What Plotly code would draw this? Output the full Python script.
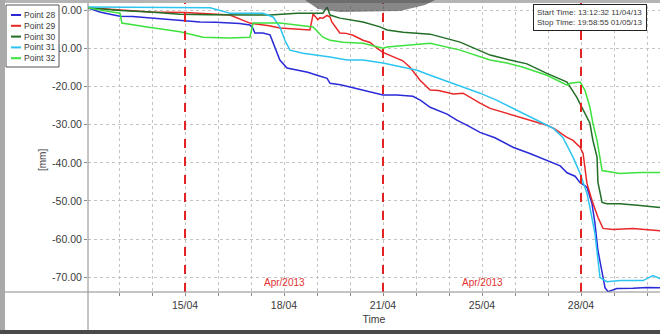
import datetime as dt
import plotly.graph_objects as go

# ---- data -------------------------------------------------------------
START = dt.datetime(2013, 4, 11)          # day offsets below are measured from here

SERIES_NAMES = ["Point 28", "Point 29", "Point 30", "Point 31", "Point 32"]
SERIES_COLORS = ["#2a2ad8", "#e82828", "#226e26", "#2cc4f0", "#3ee23e"]

p28_days = [0.90, 1.30, 1.60, 1.98, 2.40, 2.99, 3.50, 4.00, 4.67, 5.20, 5.68, 6.00, 6.35, 6.45, 6.52, 6.79,
            7.03, 7.13, 7.25, 7.36, 7.60, 7.94, 8.30, 8.61, 8.95, 9.05, 9.40, 9.72, 10.16, 10.50, 10.83,
            11.30, 11.84, 12.10, 12.42, 12.99, 13.32, 13.70, 14.10, 14.60, 15.21, 15.80, 16.35, 16.80,
            17.03, 17.30, 17.47, 17.70, 17.87, 17.97, 18.07, 18.21, 18.31, 18.41, 18.71, 19.25, 19.72, 20.16]
p28_mm = [0.7, -0.4, -0.9, -1.5, -1.6, -2.0, -2.2, -2.5, -3.0, -3.1, -3.3, -3.4, -3.8, -4.6, -5.9, -5.9,
          -6.4, -8.3, -10.8, -13.0, -15.1, -15.7, -16.2, -17.0, -17.8, -19.1, -19.5, -20.1, -20.9, -21.4, -22.2,
          -22.2, -22.5, -23.6, -25.4, -27.2, -28.8, -30.3, -32.0, -33.4, -35.9, -37.6, -39.3, -40.8,
          -42.6, -43.5, -45.2, -46.4, -50.7, -55.9, -63.0, -69.1, -72.8, -73.8, -73.0, -72.9, -72.7, -72.8]

p29_days = [0.90, 1.98, 2.99, 4.17, 5.00, 5.68, 6.35, 7.00, 7.36, 8.37, 8.44, 8.48, 8.64, 8.71, 8.81, 8.95,
            9.05, 9.11, 9.38, 9.60, 9.82, 10.16, 10.40, 10.50, 10.63, 10.83, 11.00, 11.30, 11.50, 11.74,
            12.08, 12.42, 12.70, 12.99, 13.20, 13.53, 13.80, 14.10, 14.44, 14.80, 15.01, 15.40, 15.78,
            16.10, 16.35, 16.60, 16.79, 17.00, 17.23, 17.47, 17.57, 17.63, 17.70, 17.87, 18.07, 18.24,
            18.58, 19.25, 19.92, 20.16]
p29_mm = [0.7, 0.1, -0.4, -0.5, -0.9, -1.2, -3.3, -4.0, -4.6, -5.1, -2.5, -0.9, -2.4, -1.9, -2.0, -1.3,
          -1.7, -3.0, -5.9, -6.0, -6.5, -7.8, -8.4, -9.1, -9.9, -11.0, -11.6, -12.5, -13.2, -14.9,
          -18.3, -20.9, -21.0, -21.5, -21.9, -21.7, -23.0, -24.3, -25.7, -26.5, -27.0, -27.8, -28.8,
          -29.4, -30.1, -31.0, -32.0, -33.2, -34.1, -35.9, -37.5, -42.0, -45.4, -49.9, -54.3, -57.2,
          -57.5, -57.2, -57.5, -57.8]

p30_days = [0.90, 2.00, 2.99, 4.00, 5.00, 5.68, 6.35, 7.03, 7.94, 8.48, 8.81, 8.95, 9.05, 9.38, 10.16,
            10.73, 10.97, 11.51, 12.42, 13.43, 14.44, 15.11, 15.68, 16.35, 17.03, 17.36, 17.57, 17.80,
            17.90, 18.04, 18.07, 18.21, 18.37, 18.81, 19.49, 20.16]
p30_mm = [0.7, 0.0, -0.4, -1.0, -1.1, -1.2, -1.2, -1.2, -0.7, -0.7, -0.7, 0.9, -1.2, -2.0, -3.0,
          -4.3, -5.1, -5.7, -6.2, -8.3, -11.7, -13.0, -14.0, -16.5, -18.8, -22.8, -26.2, -29.6,
          -34.1, -38.5, -45.1, -50.4, -50.7, -50.7, -51.2, -51.7]

p31_days = [0.90, 2.00, 2.99, 4.17, 5.01, 5.68, 6.79, 7.13, 7.36, 7.53, 7.70, 8.14, 8.61, 9.05, 9.62,
            10.16, 10.83, 11.51, 11.98, 12.42, 13.00, 13.53, 14.10, 14.67, 15.78, 16.56, 16.89, 17.23,
            17.47, 17.70, 17.80, 17.97, 18.14, 18.37, 18.81, 19.59, 19.92, 20.16]
p31_mm = [0.9, 0.8, 0.9, 0.7, 0.7, -0.7, -0.7, -1.7, -4.3, -7.8, -10.4, -11.2, -11.7, -12.2, -13.0,
          -13.0, -13.8, -14.9, -15.7, -17.0, -18.6, -20.1, -21.7, -23.6, -28.0, -30.9, -33.3, -38.5,
          -42.8, -48.0, -51.7, -58.6, -70.1, -71.2, -70.9, -70.9, -69.6, -70.4]

p32_days = [0.90, 1.30, 1.98, 2.04, 2.89, 3.50, 4.00, 4.77, 5.68, 6.35, 6.46, 7.36, 8.48, 8.81, 9.05,
            9.49, 10.16, 10.83, 10.97, 12.42, 13.43, 14.44, 15.01, 15.55, 16.35, 17.03, 17.13, 17.47,
            17.63, 17.80, 17.90, 18.04, 18.14, 18.21, 18.81, 19.49, 20.16]
p32_mm = [0.7, 0.1, -0.7, -3.3, -4.3, -5.0, -5.6, -7.0, -7.2, -7.0, -3.3, -3.3, -4.3, -7.0, -7.8,
          -8.3, -8.6, -9.9, -9.6, -8.6, -10.4, -13.0, -13.8, -14.9, -17.0, -19.6, -19.1, -18.8,
          -20.9, -25.4, -29.6, -34.1, -38.5, -42.0, -42.8, -42.5, -42.5]

SERIES_DAYS = [p28_days, p29_days, p30_days, p31_days, p32_days]
SERIES_MM = [p28_mm, p29_mm, p30_mm, p31_mm, p32_mm]

# axis ticks (day offsets) and their labels
X_TICK_DAYS = [4 + 4 / 24, 7.5, 10 + 20 / 24, 14 + 4 / 24, 17.5]
X_TICK_TEXT = ["15/04", "18/04", "21/04", "25/04", "28/04"]
Y_TICKS = [0, -10, -20, -30, -40, -50, -60, -70]
MARKER_DAYS = [4 + 4 / 24, 10 + 20 / 24, 17.5]     # red dashed markers
MONTH_LABEL_DAYS = [7.5, 14 + 4 / 24]
MONTH_LABEL = "Apr/2013"
START_TEXT = "Start Time: 13:12:32 11/04/13"
STOP_TEXT = "Stop Time: 19:58:55 01/05/13"

X_RANGE_DAYS = [0.90, 20.16]
Y_RANGE = [-73.9, 2.76]


def at(day):
    return START + dt.timedelta(days=day)


# ---- layout helpers (pixel -> paper) ---------------------------------
W, H = 660, 334
ML, MR, MT, MB = 88, 0, 0, 42
PW, PH = W - ML - MR, H - MT - MB


def px(x):
    return (x - ML) / PW


def py(y):
    return (H - MB - y) / PH


FONT = "Liberation Sans"
TXT = "#3a3a3a"

fig = go.Figure()
for name, color, days, vals in zip(SERIES_NAMES, SERIES_COLORS, SERIES_DAYS, SERIES_MM):
    fig.add_trace(go.Scatter(
        x=[at(d) for d in days], y=vals, name=name, mode="lines",
        line=dict(color=color, width=1.5), showlegend=False,
    ))

shapes = []
# red dashed markers
for d in MARKER_DAYS:
    shapes.append(dict(type="line", xref="x", yref="paper", x0=at(d), x1=at(d), y0=0, y1=1,
                       line=dict(color="#e52222", width=2, dash="dash"), layer="above"))
# frame lines that run past the plot area
shapes.append(dict(type="line", xref="paper", yref="paper", x0=0, x1=0, y0=1, y1=py(330),
                   line=dict(color="#8a8a8a", width=1)))
shapes.append(dict(type="line", xref="paper", yref="paper", x0=px(5), x1=1, y0=0, y1=0,
                   line=dict(color="#8a8a8a", width=1)))
# window edges
shapes.append(dict(type="rect", xref="paper", yref="paper", x0=px(0), x1=px(5), y0=py(334), y1=py(0),
                   fillcolor="#a9a9a9", line=dict(width=0), layer="above"))
shapes.append(dict(type="rect", xref="paper", yref="paper", x0=px(0), x1=1, y0=py(334), y1=py(330),
                   fillcolor="#4a4a4a", line=dict(width=0), layer="above"))
shapes.append(dict(type="rect", xref="paper", yref="paper", x0=px(5), x1=1, y0=py(3), y1=py(0),
                   fillcolor="#b4b4b4", line=dict(width=0), layer="above"))
shapes.append(dict(type="path", xref="paper", yref="paper",
                   path=f"M{px(305)},{py(0)} L{px(318)},{py(9)} L{px(340)},{py(12)} L{px(400)},{py(11)} "
                        f"L{px(425)},{py(5)} L{px(435)},{py(0)} Z",
                   fillcolor="rgba(70,70,70,0.65)", line=dict(width=0), layer="above"))

# legend box drawn over the tick-label strip
shapes.append(dict(type="rect", xref="paper", yref="paper", x0=px(6), x1=px(59), y0=py(67), y1=py(5),
                   fillcolor="white", line=dict(color="#555555", width=1), layer="above"))
annotations = []
for i, (name, color) in enumerate(zip(SERIES_NAMES, SERIES_COLORS)):
    yy = 15 + i * 10.8
    shapes.append(dict(type="line", xref="paper", yref="paper", x0=px(11), x1=px(21), y0=py(yy), y1=py(yy),
                       line=dict(color=color, width=2), layer="above"))
    annotations.append(dict(xref="paper", yref="paper", x=px(22), y=py(yy), text=name, showarrow=False,
                            xanchor="left", yanchor="middle", font=dict(family=FONT, size=8.5, color=TXT)))

for d in MONTH_LABEL_DAYS:
    annotations.append(dict(xref="x", yref="paper", x=at(d), y=py(282), text=MONTH_LABEL, showarrow=False,
                            xanchor="center", yanchor="middle", font=dict(family=FONT, size=10, color="#e23030")))

annotations.append(dict(xref="paper", yref="paper", x=px(533), y=py(4),
                        text=START_TEXT + "<br>" + STOP_TEXT, showarrow=False, align="left",
                        xanchor="left", yanchor="top", bgcolor="white", bordercolor="#222222",
                        borderwidth=1, borderpad=3, font=dict(family=FONT, size=8, color=TXT)))

annotations.append(dict(xref="paper", yref="paper", x=px(42), y=py(160), text="[mm]", textangle=-90,
                        showarrow=False, xanchor="center", yanchor="middle",
                        font=dict(family=FONT, size=10, color=TXT)))

fig.update_layout(
    width=W, height=H,
    margin=dict(l=ML, r=MR, t=MT, b=MB, pad=0),
    paper_bgcolor="white", plot_bgcolor="white",
    shapes=shapes, annotations=annotations,
    xaxis=dict(
        type="date", range=[at(X_RANGE_DAYS[0]), at(X_RANGE_DAYS[1])],
        tickmode="array", tickvals=[at(d) for d in X_TICK_DAYS], ticktext=X_TICK_TEXT,
        showgrid=True, gridcolor="#c4c4c4", griddash="dot", gridwidth=1,
        ticks="outside", ticklen=3, tickcolor="#8a8a8a",
        minor=dict(tick0=at(X_TICK_DAYS[0]), dtick=96000000, showgrid=True, gridcolor="#c4c4c4",
                   griddash="dot", ticks="outside", ticklen=3, tickcolor="#8a8a8a"),
        showline=False, zeroline=False,
        tickfont=dict(family=FONT, size=10.5, color=TXT),
        title=dict(text="Time", font=dict(family=FONT, size=10.5, color=TXT), standoff=6),
    ),
    yaxis=dict(
        range=Y_RANGE, tickmode="array", tickvals=Y_TICKS, ticktext=[f"{v:.2f}" for v in Y_TICKS],
        showgrid=True, gridcolor="#c4c4c4", griddash="dot", gridwidth=1,
        ticks="outside", ticklen=3, tickcolor="#8a8a8a",
        showline=False, zeroline=False,
        tickfont=dict(family=FONT, size=10.5, color=TXT),
    ),
)

fig.write_html("out.html")
